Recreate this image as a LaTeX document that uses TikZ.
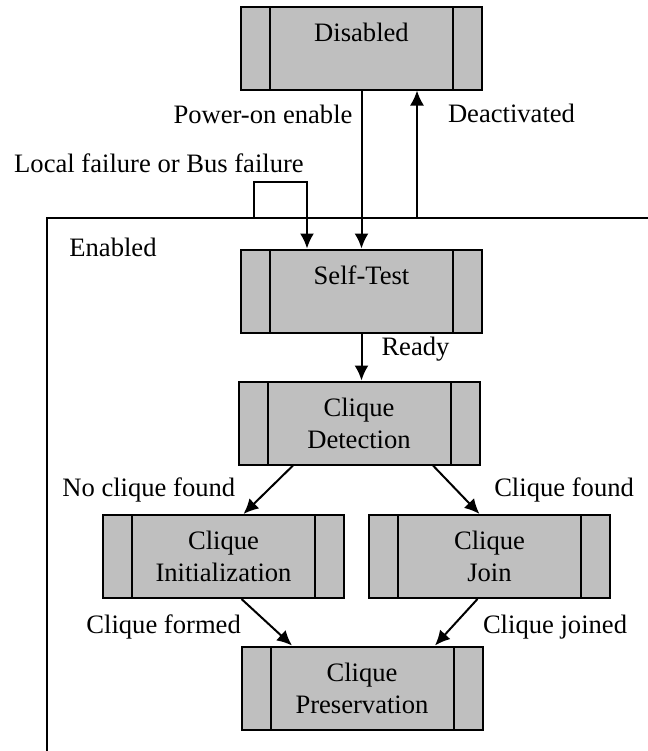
\documentclass[tikz,border=0pt]{standalone}
\usepackage{fontspec}
\setmainfont{Liberation Serif}
\usetikzlibrary{arrows.meta}

\begin{document}
\begin{tikzpicture}[x=0.5pt,y=-0.5pt,font=\fontsize{13.3}{16}\selectfont]
\useasboundingbox (0,0) rectangle (648,751);
\tikzstyle{etat}=[draw,line width=1pt,fill=gray!50,minimum width=120.5pt,minimum height=41.5pt,inner sep=0pt,align=center,
	path picture={\draw[line width=1pt]
		([xshift=14.5pt]path picture bounding box.north west) -- ([xshift=14.5pt]path picture bounding box.south west)
		([xshift=-14.5pt]path picture bounding box.north east) -- ([xshift=-14.5pt]path picture bounding box.south east);}]
\tikzstyle{lbl}=[inner sep=2pt]
	\node[etat] (dis) at (361.5,48) {Disabled\\\mbox{}};
	\node[etat] (st) at (361.5,291) {Self-Test\\\mbox{}};
	\node[etat] (cd) at (359,423) {Clique\\Detection};
	\node[etat] (ci) at (223.5,556.5) {Clique\\Initialization};
	\node[etat] (cj) at (489.5,556.5) {Clique\\Join};
	\node[etat] (cp) at (362,688) {Clique\\Preservation};
\par
% Enabled frame
	\coordinate (en) at (47,218);
	\draw[line width=1pt] (47,751) -- (en) -- (648,218);
	\node[lbl,anchor=west] (enl) at (65,247) {Enabled};
	\coordinate (de) at (417,218);
	\coordinate (lf) at (254,218);
	\coordinate (lt) at (307,182);
	\node[lbl] (lfl) at (159,163) {Local failure or Bus failure};
\par
\tikzstyle{estun}=[->,>={Latex[length=7.5pt,width=7pt]},line width=1pt]
	\draw[estun] (dis) -- node[lbl,pos=0.15,left=2pt] {Power-on enable} (st);
	\draw[estun] (de) -- node[lbl,pos=0.82,right=13pt] {Deactivated} (de |- dis.south);
	\draw[estun] (lf) |- (lt) -- (lt |- st.north);
	\draw[estun] (st) -- node[lbl,pos=0.33,right=7.5pt] {Ready} (st.south |- cd.north);
	\draw[estun] ([xshift=-33pt]cd.south) -- node[lbl,pos=0.5,left=14pt] {No clique found} ([xshift=10pt]ci.north);
	\draw[estun] ([xshift=37pt]cd.south) -- node[lbl,pos=0.5,right=16.5pt] {Clique found} ([xshift=-5pt]cj.north);
	\draw[estun] ([xshift=9pt]ci.south) -- node[lbl,pos=0.6,left=13pt] {Clique formed} ([xshift=-35pt]cp.north);
	\draw[estun] ([xshift=-6pt]cj.south) -- node[lbl,pos=0.6,right=13pt] {Clique joined} ([xshift=36.5pt]cp.north);
\end{tikzpicture}
\end{document}
